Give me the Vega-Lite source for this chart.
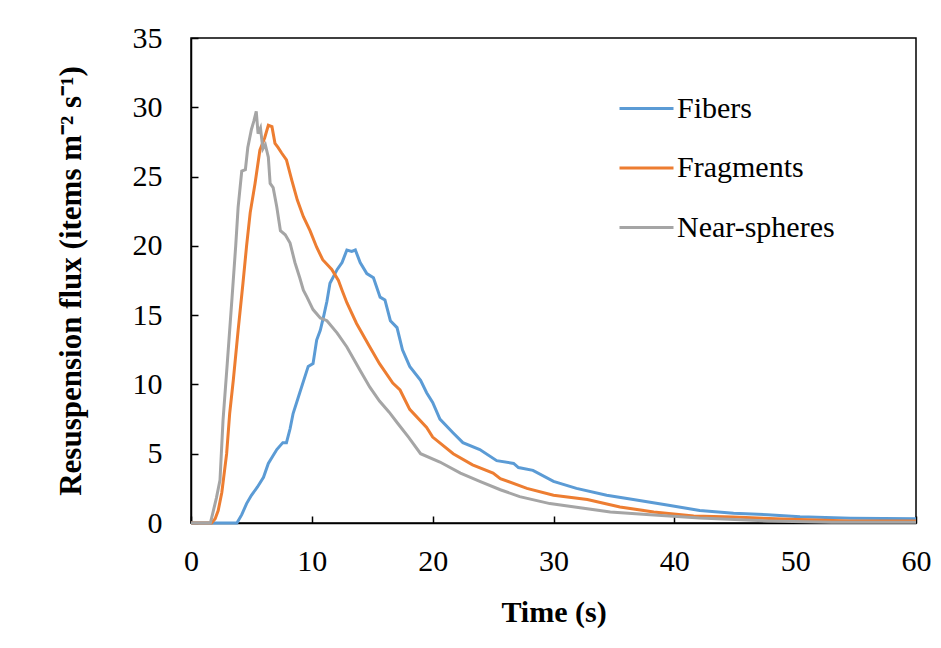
{
  "$schema": "https://vega.github.io/schema/vega-lite/v6.json",
  "width": 725,
  "height": 485,
  "autosize": {"type": "none"},
  "padding": {"left": 191, "top": 38, "right": 25, "bottom": 125},
  "background": "white",
  "config": {
    "view": {"stroke": "black", "strokeWidth": 1.5},
    "font": "Liberation Serif",
    "legend": {"labelFont": "Liberation Serif"}
  },
  "data": {"values": [
    {"s":"Fibers","t":0,"v":0},{"s":"Fibers","t":3.8,"v":0},{"s":"Fibers","t":4.2,"v":0.6},{"s":"Fibers","t":4.6,"v":1.4},{"s":"Fibers","t":5.0,"v":2.0},{"s":"Fibers","t":5.5,"v":2.6},{"s":"Fibers","t":6.0,"v":3.3},{"s":"Fibers","t":6.4,"v":4.3},{"s":"Fibers","t":7.1,"v":5.3},{"s":"Fibers","t":7.6,"v":5.8},{"s":"Fibers","t":7.9,"v":5.8},{"s":"Fibers","t":8.2,"v":6.8},{"s":"Fibers","t":8.45,"v":7.9},{"s":"Fibers","t":9.0,"v":9.4},{"s":"Fibers","t":9.7,"v":11.3},{"s":"Fibers","t":10.1,"v":11.5},{"s":"Fibers","t":10.4,"v":13.2},{"s":"Fibers","t":10.7,"v":13.9},{"s":"Fibers","t":11.0,"v":15.0},{"s":"Fibers","t":11.25,"v":16.0},{"s":"Fibers","t":11.5,"v":17.3},{"s":"Fibers","t":12.1,"v":18.3},{"s":"Fibers","t":12.5,"v":18.8},{"s":"Fibers","t":12.9,"v":19.7},{"s":"Fibers","t":13.3,"v":19.6},{"s":"Fibers","t":13.6,"v":19.7},{"s":"Fibers","t":14.0,"v":18.8},{"s":"Fibers","t":14.55,"v":18.0},{"s":"Fibers","t":15.1,"v":17.7},{"s":"Fibers","t":15.65,"v":16.3},{"s":"Fibers","t":16.05,"v":16.1},{"s":"Fibers","t":16.5,"v":14.6},{"s":"Fibers","t":17.05,"v":14.1},{"s":"Fibers","t":17.5,"v":12.5},{"s":"Fibers","t":18.1,"v":11.3},{"s":"Fibers","t":19.0,"v":10.3},{"s":"Fibers","t":19.5,"v":9.4},{"s":"Fibers","t":20.0,"v":8.7},{"s":"Fibers","t":20.6,"v":7.5},{"s":"Fibers","t":21.7,"v":6.5},{"s":"Fibers","t":22.5,"v":5.8},{"s":"Fibers","t":23.9,"v":5.3},{"s":"Fibers","t":25.3,"v":4.5},{"s":"Fibers","t":26.7,"v":4.3},{"s":"Fibers","t":27.1,"v":4.0},{"s":"Fibers","t":28.3,"v":3.8},{"s":"Fibers","t":30,"v":3.0},{"s":"Fibers","t":31.9,"v":2.5},{"s":"Fibers","t":34.4,"v":2.0},{"s":"Fibers","t":36.6,"v":1.7},{"s":"Fibers","t":39.4,"v":1.3},{"s":"Fibers","t":42.1,"v":0.9},{"s":"Fibers","t":44.9,"v":0.7},{"s":"Fibers","t":47.7,"v":0.6},{"s":"Fibers","t":50.4,"v":0.45},{"s":"Fibers","t":54.6,"v":0.35},{"s":"Fibers","t":60,"v":0.3},
    {"s":"Fragments","t":0,"v":0},{"s":"Fragments","t":1.7,"v":0},{"s":"Fragments","t":2.0,"v":0.3},{"s":"Fragments","t":2.25,"v":0.9},{"s":"Fragments","t":2.55,"v":2.2},{"s":"Fragments","t":2.95,"v":5.0},{"s":"Fragments","t":3.2,"v":7.9},{"s":"Fragments","t":3.5,"v":10.3},{"s":"Fragments","t":3.9,"v":13.9},{"s":"Fragments","t":4.3,"v":17.3},{"s":"Fragments","t":4.6,"v":20},{"s":"Fragments","t":4.9,"v":22.4},{"s":"Fragments","t":5.3,"v":24.5},{"s":"Fragments","t":5.7,"v":26.9},{"s":"Fragments","t":6.1,"v":27.8},{"s":"Fragments","t":6.4,"v":28.7},{"s":"Fragments","t":6.7,"v":28.6},{"s":"Fragments","t":6.95,"v":27.4},{"s":"Fragments","t":7.2,"v":27.1},{"s":"Fragments","t":7.5,"v":26.7},{"s":"Fragments","t":7.9,"v":26.2},{"s":"Fragments","t":8.35,"v":24.7},{"s":"Fragments","t":8.8,"v":23.3},{"s":"Fragments","t":9.3,"v":22.1},{"s":"Fragments","t":9.85,"v":21.1},{"s":"Fragments","t":10.4,"v":19.9},{"s":"Fragments","t":10.9,"v":19.0},{"s":"Fragments","t":11.65,"v":18.3},{"s":"Fragments","t":12.2,"v":17.5},{"s":"Fragments","t":12.5,"v":16.8},{"s":"Fragments","t":12.9,"v":15.9},{"s":"Fragments","t":13.7,"v":14.4},{"s":"Fragments","t":14.8,"v":12.7},{"s":"Fragments","t":15.6,"v":11.5},{"s":"Fragments","t":16.7,"v":10.1},{"s":"Fragments","t":17.3,"v":9.6},{"s":"Fragments","t":18.1,"v":8.2},{"s":"Fragments","t":19.5,"v":6.9},{"s":"Fragments","t":20.0,"v":6.2},{"s":"Fragments","t":21.7,"v":5.0},{"s":"Fragments","t":23.3,"v":4.2},{"s":"Fragments","t":25.0,"v":3.6},{"s":"Fragments","t":25.6,"v":3.2},{"s":"Fragments","t":27.8,"v":2.5},{"s":"Fragments","t":30,"v":2.0},{"s":"Fragments","t":32.8,"v":1.7},{"s":"Fragments","t":35.5,"v":1.15},{"s":"Fragments","t":38.3,"v":0.8},{"s":"Fragments","t":41.6,"v":0.5},{"s":"Fragments","t":44.9,"v":0.43},{"s":"Fragments","t":49,"v":0.29},{"s":"Fragments","t":54.5,"v":0.15},{"s":"Fragments","t":60,"v":0.15},
    {"s":"Near-spheres","t":0,"v":0},{"s":"Near-spheres","t":1.6,"v":0},{"s":"Near-spheres","t":1.8,"v":0.7},{"s":"Near-spheres","t":2.1,"v":1.8},{"s":"Near-spheres","t":2.4,"v":3.1},{"s":"Near-spheres","t":2.65,"v":7.4},{"s":"Near-spheres","t":3.0,"v":11.5},{"s":"Near-spheres","t":3.4,"v":16.3},{"s":"Near-spheres","t":3.7,"v":20},{"s":"Near-spheres","t":3.9,"v":22.8},{"s":"Near-spheres","t":4.2,"v":25.4},{"s":"Near-spheres","t":4.5,"v":25.5},{"s":"Near-spheres","t":4.7,"v":27.1},{"s":"Near-spheres","t":5.0,"v":28.4},{"s":"Near-spheres","t":5.2,"v":29.0},{"s":"Near-spheres","t":5.4,"v":29.7},{"s":"Near-spheres","t":5.55,"v":28.1},{"s":"Near-spheres","t":5.75,"v":28.5},{"s":"Near-spheres","t":5.95,"v":27.0},{"s":"Near-spheres","t":6.15,"v":27.3},{"s":"Near-spheres","t":6.4,"v":26.4},{"s":"Near-spheres","t":6.55,"v":24.5},{"s":"Near-spheres","t":6.8,"v":24.2},{"s":"Near-spheres","t":7.1,"v":22.8},{"s":"Near-spheres","t":7.4,"v":21.1},{"s":"Near-spheres","t":7.8,"v":20.8},{"s":"Near-spheres","t":8.2,"v":20.2},{"s":"Near-spheres","t":8.6,"v":18.8},{"s":"Near-spheres","t":9.0,"v":17.7},{"s":"Near-spheres","t":9.3,"v":16.8},{"s":"Near-spheres","t":9.6,"v":16.3},{"s":"Near-spheres","t":10.1,"v":15.4},{"s":"Near-spheres","t":10.7,"v":14.8},{"s":"Near-spheres","t":11.25,"v":14.6},{"s":"Near-spheres","t":12.1,"v":13.7},{"s":"Near-spheres","t":12.9,"v":12.7},{"s":"Near-spheres","t":14.0,"v":11.0},{"s":"Near-spheres","t":14.8,"v":9.8},{"s":"Near-spheres","t":15.6,"v":8.8},{"s":"Near-spheres","t":16.4,"v":8.0},{"s":"Near-spheres","t":17.1,"v":7.2},{"s":"Near-spheres","t":18,"v":6.2},{"s":"Near-spheres","t":19.0,"v":5.0},{"s":"Near-spheres","t":20.6,"v":4.4},{"s":"Near-spheres","t":22.3,"v":3.6},{"s":"Near-spheres","t":23.9,"v":3.0},{"s":"Near-spheres","t":25.6,"v":2.4},{"s":"Near-spheres","t":27.2,"v":1.9},{"s":"Near-spheres","t":29.7,"v":1.4},{"s":"Near-spheres","t":32.2,"v":1.1},{"s":"Near-spheres","t":34.7,"v":0.8},{"s":"Near-spheres","t":38,"v":0.6},{"s":"Near-spheres","t":42.1,"v":0.36},{"s":"Near-spheres","t":47.7,"v":0.15},{"s":"Near-spheres","t":53,"v":0.05},{"s":"Near-spheres","t":60,"v":0.05}
  ]},
  "mark": {"type": "line", "strokeWidth": 3, "interpolate": "linear"},
  "encoding": {
    "x": {
      "field": "t", "type": "quantitative",
      "scale": {"domain": [0, 60], "nice": false, "zero": false},
      "axis": {
        "title": "Time (s)", "values": [0, 10, 20, 30, 40, 50, 60],
        "grid": false, "domainColor": "black", "domainWidth": 1.5,
        "tickColor": "black", "tickWidth": 1.5, "tickSize": -7,
        "labelFlush": false, "labelOverlap": false,
        "labelFont": "Liberation Serif", "labelFontSize": 30, "labelColor": "black",
        "labelPadding": 30,
        "titleFont": "Liberation Serif", "titleFontSize": 30, "titleFontWeight": "bold", "titleColor": "black",
        "titlePadding": 21
      }
    },
    "y": {
      "field": "v", "type": "quantitative",
      "scale": {"domain": [0, 35], "nice": false},
      "axis": {
        "title": "Resuspension flux  (items m⁻² s⁻¹)", "values": [0, 5, 10, 15, 20, 25, 30, 35],
        "grid": false, "domainColor": "black", "domainWidth": 1.5,
        "tickColor": "black", "tickWidth": 1.5, "tickSize": -7,
        "labelFlush": false, "labelOverlap": false,
        "labelFont": "Liberation Serif", "labelFontSize": 30, "labelColor": "black",
        "labelPadding": 36,
        "titleFont": "Liberation Serif", "titleFontSize": 31, "titleFontWeight": "bold", "titleColor": "black",
        "titlePadding": 45
      }
    },
    "color": {
      "field": "s", "type": "nominal",
      "scale": {"domain": ["Fibers", "Fragments", "Near-spheres"], "range": ["#5B9BD5", "#ED7D31", "#A5A5A5"]},
      "legend": {
        "title": null, "orient": "none", "legendX": 427, "legendY": 42,
        "symbolType": "stroke", "symbolSize": 2916, "symbolStrokeWidth": 3,
        "labelFont": "Liberation Serif", "labelFontSize": 30, "labelColor": "black",
        "labelOffset": 2, "rowPadding": 15.5
      }
    },
    "order": {"field": "t", "type": "quantitative"}
  }
}
